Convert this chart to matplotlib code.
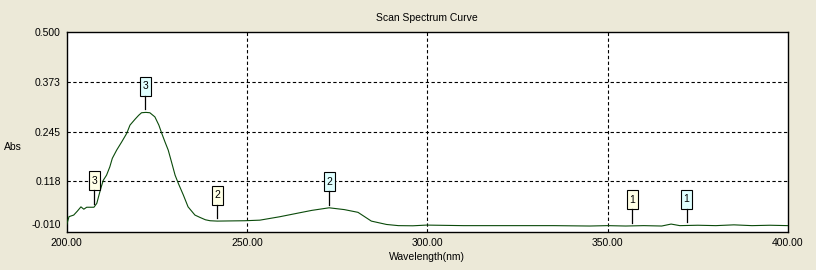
import numpy as np
import matplotlib
matplotlib.use("Agg")
import matplotlib.pyplot as plt
import matplotlib.transforms as mtransforms
from matplotlib.patches import Rectangle
from matplotlib.lines import Line2D

# ---- data ----
wavelength = [200, 200.7, 202, 203, 204, 204.8, 205.6, 206.5, 207.6, 208.4, 209, 209.6,
              210.2, 211.1, 212, 212.7, 213.9, 215.3, 216.7, 217.6, 219, 220, 220.8,
              222, 223.1, 224.5, 225.6, 226.4, 227.3, 228.2, 229.1, 230.1, 231, 232.4,
              233.7, 235.6, 237, 238.5, 239.8, 241.8, 245, 249.4, 253.6, 259.1, 264.7,
              268, 272.8, 277, 280.8, 284.5, 288.7, 292, 296, 299.8, 310, 320, 335, 345,
              350, 355, 360, 365, 367.6, 370, 375, 380, 385, 390, 395, 400]
absorbance = [0.006, 0.028, 0.032, 0.042, 0.053, 0.047, 0.052, 0.052, 0.052, 0.062, 0.083,
              0.103, 0.121, 0.134, 0.155, 0.177, 0.198, 0.219, 0.241, 0.262, 0.277, 0.287,
              0.2936, 0.2945, 0.2936, 0.283, 0.262, 0.241, 0.219, 0.198, 0.168, 0.134,
              0.113, 0.083, 0.053, 0.032, 0.026, 0.020, 0.0175, 0.0166, 0.017, 0.0175,
              0.019, 0.0277, 0.038, 0.044, 0.0506, 0.046, 0.039, 0.0166, 0.008, 0.005,
              0.0046, 0.0064, 0.005, 0.005, 0.005, 0.004, 0.005, 0.004, 0.005, 0.004,
              0.009, 0.005, 0.006, 0.005, 0.007, 0.005, 0.006, 0.005]

marker_wl = [221.8, 207.7, 241.8, 272.8, 356.8, 371.9]
marker_label = ["3", "3", "2", "2", "1", "1"]
marker_kind = ["peak", "valley", "valley", "peak", "valley", "peak"]

y_ticks = [-0.010, 0.118, 0.245, 0.373, 0.500]
y_tick_labels = ["-0.010", "0.118", "0.245", "0.373", "0.500"]
x_ticks = [200, 250, 300, 350, 400]
x_tick_labels = ["200.00", "250.00", "300.00", "350.00", "400.00"]

# ---- figure ----
plt.rcParams['font.family'] = ['Liberation Sans', 'DejaVu Sans']
BG = '#ECE9D8'
fig = plt.figure(figsize=(8.16, 2.70), dpi=100, facecolor=BG)
ax = fig.add_axes([66.5 / 816, 1 - 231.5 / 270, (788 - 66.5) / 816, (231.5 - 32) / 270])
ax.set_facecolor('white')

ax.plot(wavelength, absorbance, color='#0a4a0a', lw=0.8, zorder=3)

ax.set_xlim(200, 400)
ax.set_ylim(-0.010, 0.500)
ax.set_xticks(x_ticks)
ax.set_xticklabels(x_tick_labels)
ax.set_yticks(y_ticks)
ax.set_yticklabels(y_tick_labels)
ax.tick_params(axis='both', length=0, labelsize=7.5, colors='black')
ax.tick_params(axis='y', pad=4)
ax.tick_params(axis='x', pad=5)

# shift the bottom y label up as in the reference
lbl = ax.get_yticklabels()[0]
lbl.set_transform(lbl.get_transform() + mtransforms.ScaledTranslation(0, 7.5 / 100, fig.dpi_scale_trans))

for gx in x_ticks[1:-1]:
    ax.axvline(gx, color='black', lw=0.8, ls=(0, (3, 2.2)), zorder=1)
for gy in y_ticks[1:-1]:
    ax.axhline(gy, color='black', lw=0.8, ls=(0, (3, 2.2)), zorder=1)

for s in ax.spines.values():
    s.set_linewidth(1.0)
    s.set_color('black')

# markers (geometry in pixels relative to the curve point)
BOX_W, BOX_H, CENTER, GAP = 11, 19, 26, 3
for wl, lab, kind in zip(marker_wl, marker_label, marker_kind):
    yv = float(np.interp(wl, wavelength, absorbance))
    tr = mtransforms.IdentityTransform() + mtransforms.ScaledTranslation(wl, yv, ax.transData)
    fc = '#E0FFFF' if kind == 'peak' else '#FFFFE6'
    ax.add_patch(Rectangle((-BOX_W / 2, CENTER - BOX_H / 2), BOX_W, BOX_H, transform=tr,
                           fc=fc, ec='black', lw=0.8, zorder=5, clip_on=False))
    ax.add_line(Line2D([0, 0], [GAP, CENTER - BOX_H / 2], transform=tr, color='black',
                       lw=0.9, zorder=5, clip_on=False))
    ax.text(0, CENTER, lab, transform=tr, ha='center', va='center', fontsize=7.5, zorder=6)

fig.text(427 / 816, 1 - 18 / 270, "Scan Spectrum Curve", ha='center', va='center', fontsize=7.5)
fig.text(13 / 816, 1 - 147 / 270, "Abs", ha='center', va='center', fontsize=7.5)
fig.text(427 / 816, 1 - 257.5 / 270, "Wavelength(nm)", ha='center', va='center', fontsize=7.5)

fig.savefig("out.png", dpi=100, facecolor=BG)
